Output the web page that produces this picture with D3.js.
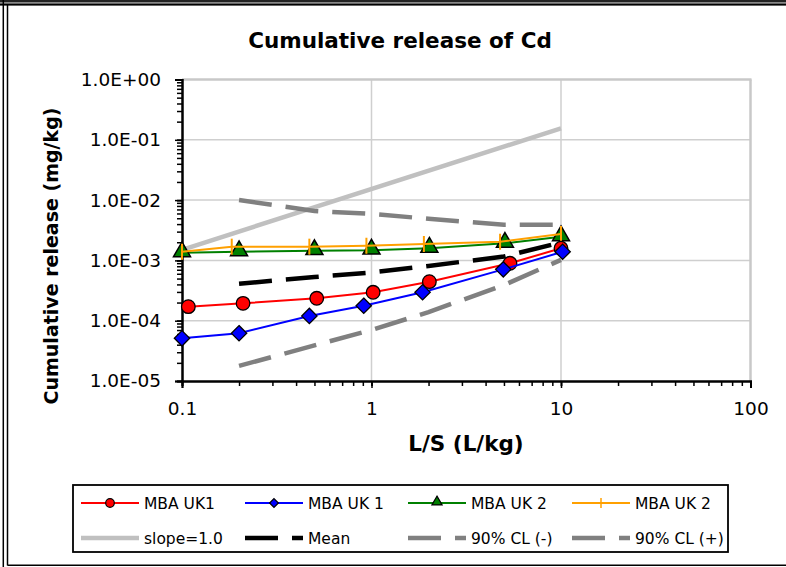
<!DOCTYPE html>
<html><head><meta charset="utf-8">
<script src="https://cdn.jsdelivr.net/npm/d3@7"></script>
<style>html,body{margin:0;padding:0;background:#fff;} svg{display:block;}</style>
</head><body>
<svg id="c" width="786" height="567"></svg>
<script>
// ---- data ----
const redX   = [0.108, 0.21, 0.514, 1.02, 2.02, 5.38, 10.0];
const redY   = [1.71e-4, 1.94e-4, 2.35e-4, 2.96e-4, 4.44e-4, 8.95e-4, 1.59e-3];
const blueX  = [0.1, 0.2, 0.47, 0.91, 1.86, 4.96, 10.2];
const blueY  = [5.1e-5, 6.2e-5, 1.2e-4, 1.77e-4, 2.96e-4, 7.1e-4, 1.39e-3];
const greenX = [0.1, 0.2, 0.5, 1.0, 2.02, 5.06, 10.0];
const greenY = [1.34e-3, 1.39e-3, 1.45e-3, 1.48e-3, 1.59e-3, 1.92e-3, 2.47e-3];
const orangeX = [0.1, 0.183, 0.47, 0.94, 1.89, 4.77, 10.0];
const orangeY = [1.39e-3, 1.69e-3, 1.69e-3, 1.75e-3, 1.87e-3, 2.04e-3, 2.74e-3];
const slopeX = [0.1, 10];
const slopeY = [1.5e-3, 0.155];
const statX  = [0.2, 0.5, 1, 2, 5, 10];
const meanY  = [4.1e-4, 5.3e-4, 6.3e-4, 8.1e-4, 1.16e-3, 1.98e-3];
const clMinusY = [1.78e-5, 3.9e-5, 7.0e-5, 1.39e-4, 3.9e-4, 1.02e-3];
const clPlusY  = [1.0e-2, 6.6e-3, 5.9e-3, 4.9e-3, 3.9e-3, 3.9e-3];
const xTickValues = [0.1, 1, 10, 100];
const xTickLabels = ["0.1", "1", "10", "100"];
const yTickValues = [1e-5, 1e-4, 1e-3, 1e-2, 1e-1, 1];
const yTickLabels = ["1.0E-05", "1.0E-04", "1.0E-03", "1.0E-02", "1.0E-01", "1.0E+00"];
const legendLabels = ["MBA UK1", "MBA UK 1", "MBA UK 2", "MBA UK 2", "slope=1.0", "Mean", "90% CL (-)", "90% CL (+)"];
const titleText = "Cumulative release of Cd";
const xTitle = "L/S (L/kg)";
const yTitle = "Cumulative release (mg/kg)";

// ---- layout ----
const L = 182, R = 750.5, T = 79.5, B = 381;
const FONT = "'DejaVu Sans', Verdana, sans-serif";
const svg = d3.select("#c");
const x = d3.scaleLog().domain([0.1, 100]).range([L, R]);
const y = d3.scaleLog().domain([1e-5, 1]).range([B, T]);

// outer frame
svg.append("rect").attr("x",0).attr("y",0).attr("width",786).attr("height",6).attr("fill","#888");
svg.append("line").attr("x1",0).attr("x2",786).attr("y1",1).attr("y2",1).attr("stroke","#000").attr("stroke-width",1.5);
svg.append("line").attr("x1",0).attr("x2",786).attr("y1",4.5).attr("y2",4.5).attr("stroke","#000").attr("stroke-width",1.5);
svg.append("line").attr("x1",3.3).attr("x2",3.3).attr("y1",0).attr("y2",567).attr("stroke","#000").attr("stroke-width",1.5);
svg.append("line").attr("x1",7.5).attr("x2",7.5).attr("y1",5).attr("y2",565.5).attr("stroke","#000").attr("stroke-width",1.5);
svg.append("line").attr("x1",7.5).attr("x2",786).attr("y1",565.3).attr("y2",565.3).attr("stroke","#000").attr("stroke-width",1.5);

// grid
const grid = svg.append("g");
yTickValues.slice(1, 5).forEach(v => grid.append("line").attr("x1", L).attr("x2", R).attr("y1", y(v)).attr("y2", y(v)).attr("stroke", "#cfcfcf").attr("stroke-width", 1.5));
[1, 10].forEach(v => grid.append("line").attr("x1", x(v)).attr("x2", x(v)).attr("y1", T).attr("y2", B).attr("stroke", "#cfcfcf").attr("stroke-width", 1.5));
grid.append("line").attr("x1", L).attr("x2", R + 1).attr("y1", T).attr("y2", T).attr("stroke", "#c8c8c8").attr("stroke-width", 2.5);
grid.append("line").attr("x1", R).attr("x2", R).attr("y1", T).attr("y2", B).attr("stroke", "#c8c8c8").attr("stroke-width", 2.5);

// minor tick values
const minorX = [], minorY = [];
[0.1, 1, 10].forEach(d => { for (let k = 1; k <= 10; k++) minorX.push(d * k); });
[1e-5, 1e-4, 1e-3, 1e-2, 1e-1].forEach(d => { for (let k = 1; k <= 10; k++) minorY.push(d * k); });

// axes
const xAxisMinor = d3.axisBottom(x).tickValues(minorX).tickSize(5).tickFormat("");
const xAxisMajor = d3.axisBottom(x).tickValues(xTickValues).tickSize(7).tickPadding(14)
  .tickFormat((d, i) => xTickLabels[i]);
const yAxisMinor = d3.axisLeft(y).tickValues(minorY).tickSize(5).tickFormat("");
const yAxisMajor = d3.axisLeft(y).tickValues(yTickValues).tickSize(7).tickPadding(14)
  .tickFormat((d, i) => yTickLabels[i]);

function styleAxis(g) {
  g.select(".domain").attr("stroke", "#000").attr("stroke-width", 2);
  g.selectAll(".tick line").attr("stroke", "#000").attr("stroke-width", 1.5);
  g.selectAll("text").attr("font-family", FONT).attr("font-size", 18.5).attr("fill", "#000");
}
svg.append("g").attr("transform", `translate(0,${B})`).call(xAxisMinor).call(styleAxis);
svg.append("g").attr("transform", `translate(0,${B})`).call(xAxisMajor).call(styleAxis);
svg.append("g").attr("transform", `translate(${L},0)`).call(yAxisMinor).call(styleAxis);
svg.append("g").attr("transform", `translate(${L},0)`).call(yAxisMajor).call(styleAxis);

// titles
svg.append("text").attr("x", 400).attr("y", 48).attr("text-anchor", "middle")
  .attr("font-family", FONT).attr("font-weight", "bold").attr("font-size", 21.5).text(titleText);
svg.append("text").attr("x", 466).attr("y", 451).attr("text-anchor", "middle")
  .attr("font-family", FONT).attr("font-weight", "bold").attr("font-size", 21.5).text(xTitle);
svg.append("text").attr("transform", "translate(58,256) rotate(-90)").attr("text-anchor", "middle")
  .attr("font-family", FONT).attr("font-weight", "bold").attr("font-size", 19).text(yTitle);

// series
const line = d3.line().x(d => x(d[0])).y(d => y(d[1]));
const plot = svg.append("g");
const zip = (a, b) => a.map((v, i) => [v, b[i]]);

plot.append("path").datum(zip(slopeX, slopeY)).attr("d", line).attr("fill", "none").attr("stroke", "#c0c0c0").attr("stroke-width", 4.5);
plot.append("path").datum(zip(statX, clPlusY)).attr("d", line).attr("fill", "none").attr("stroke", "#808080").attr("stroke-width", 4.5).attr("stroke-dasharray", "33,14");
plot.append("path").datum(zip(statX, clMinusY)).attr("d", line).attr("fill", "none").attr("stroke", "#808080").attr("stroke-width", 4.5).attr("stroke-dasharray", "33,14");
plot.append("path").datum(zip(statX, meanY)).attr("d", line).attr("fill", "none").attr("stroke", "#000").attr("stroke-width", 4.5).attr("stroke-dasharray", "33,14");

function series(xs, ys, color) {
  plot.append("path").datum(zip(xs, ys)).attr("d", line).attr("fill", "none").attr("stroke", color).attr("stroke-width", 2);
}
series(greenX, greenY, "#008000");
plot.selectAll(".tri").data(zip(greenX, greenY)).enter().append("path")
  .attr("d", d3.symbol().type(d3.symbolTriangle).size(125))
  .attr("transform", d => `translate(${x(d[0])},${y(d[1]) - 1})`)
  .attr("fill", "#008000").attr("stroke", "#000").attr("stroke-width", 1.5);
series(orangeX, orangeY, "#ffa000");
plot.selectAll(".plus").data(zip(orangeX, orangeY)).enter().append("line")
  .attr("x1", d => x(d[0])).attr("x2", d => x(d[0]))
  .attr("y1", d => y(d[1]) - 8).attr("y2", d => y(d[1]) + 8)
  .attr("stroke", "#ffa000").attr("stroke-width", 2);
series(redX, redY, "#ff0000");
plot.selectAll(".circ").data(zip(redX, redY)).enter().append("circle")
  .attr("cx", d => x(d[0])).attr("cy", d => y(d[1])).attr("r", 6.8)
  .attr("fill", "#ff0000").attr("stroke", "#000").attr("stroke-width", 1.3);
series(blueX, blueY, "#0000ff");
plot.selectAll(".dia").data(zip(blueX, blueY)).enter().append("path")
  .attr("d", d3.symbol().type(d3.symbolDiamond2).size(150))
  .attr("transform", d => `translate(${x(d[0])},${y(d[1])})`)
  .attr("fill", "#0000ff").attr("stroke", "#000").attr("stroke-width", 1.3);

// legend
const lg = svg.append("g");
lg.append("rect").attr("x", 73).attr("y", 485).attr("width", 655).attr("height", 67)
  .attr("fill", "#fff").attr("stroke", "#000").attr("stroke-width", 1.8);
const colX = [81, 245, 408, 572];
const rowY = [503, 538];
const lw = 58;
const styles = [
  {c: "#ff0000", w: 2, m: "circle"},
  {c: "#0000ff", w: 2, m: "diamond"},
  {c: "#008000", w: 2, m: "triangle"},
  {c: "#ffa000", w: 2, m: "plus"},
  {c: "#c0c0c0", w: 4.5},
  {c: "#000", w: 4.5, dash: "33,14"},
  {c: "#808080", w: 4.5, dash: "33,14"},
  {c: "#808080", w: 4.5, dash: "33,14"}
];
legendLabels.forEach((lab, i) => {
  const cx = colX[i % 4], cy = rowY[Math.floor(i / 4)], s = styles[i];
  lg.append("line").attr("x1", cx).attr("x2", cx + lw).attr("y1", cy).attr("y2", cy)
    .attr("stroke", s.c).attr("stroke-width", s.w).attr("stroke-dasharray", s.dash || null);
  const mx = cx + lw / 2;
  if (s.m === "circle") lg.append("circle").attr("cx", mx).attr("cy", cy).attr("r", 4.3).attr("fill", s.c).attr("stroke", "#000").attr("stroke-width", 1.2);
  if (s.m === "diamond") lg.append("path").attr("d", d3.symbol().type(d3.symbolDiamond2).size(50)).attr("transform", `translate(${mx},${cy})`).attr("fill", s.c).attr("stroke", "#000").attr("stroke-width", 1.2);
  if (s.m === "triangle") lg.append("path").attr("d", d3.symbol().type(d3.symbolTriangle).size(45)).attr("transform", `translate(${mx},${cy - 1})`).attr("fill", s.c).attr("stroke", "#000").attr("stroke-width", 1.2);
  if (s.m === "plus") lg.append("line").attr("x1", mx).attr("x2", mx).attr("y1", cy - 5).attr("y2", cy + 5).attr("stroke", s.c).attr("stroke-width", 1.5);
  lg.append("text").attr("x", cx + lw + 5).attr("y", cy + 6).attr("font-family", FONT).attr("font-size", 15.5).attr("fill", "#000").text(lab);
});
</script>
</body></html>
